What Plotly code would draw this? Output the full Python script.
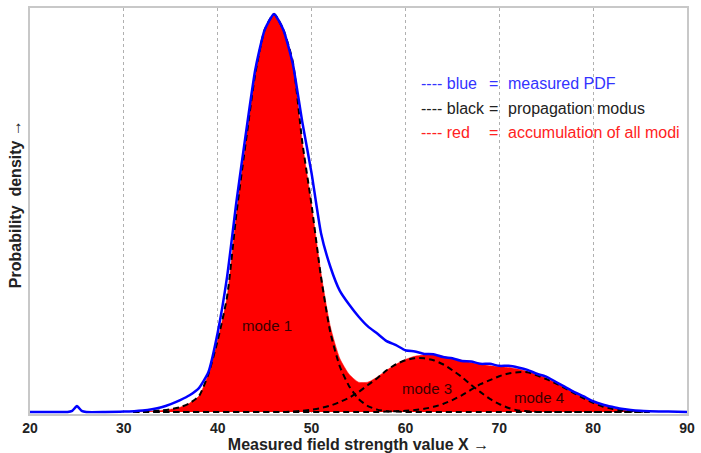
import plotly.graph_objects as go

# ---- data (y in arbitrary density units) ----
x_blue = [20, 22, 24, 24.5, 25, 25.5, 26, 28, 30, 32, 33, 34, 35, 36, 37, 38, 39, 40,
          41, 42, 43, 44, 45, 46, 47, 48, 49, 50, 51, 52, 53, 54, 55, 56, 57, 58, 59,
          60, 61, 62, 63, 64, 65, 66, 67, 68, 69, 70, 71, 72, 73, 74, 75, 76, 77, 78,
          79, 80, 81, 82, 83, 84, 85, 86, 88, 90]
y_blue = [0.0, 0.0, 0.0, 0.003, 0.015, 0.003, 0.0, 0.0, 0.001, 0.004, 0.007, 0.012, 0.02,
          0.03, 0.042, 0.06, 0.1, 0.2, 0.34, 0.53, 0.70, 0.86, 0.96, 1.0, 0.96, 0.875,
          0.73, 0.60, 0.45, 0.365, 0.305, 0.27, 0.24, 0.215, 0.197, 0.178, 0.168, 0.155,
          0.152, 0.146, 0.145, 0.138, 0.135, 0.128, 0.127, 0.121, 0.121, 0.116, 0.116, 0.112,
          0.106, 0.096, 0.089, 0.076, 0.063, 0.05, 0.039, 0.027, 0.019, 0.013, 0.008,
          0.005, 0.003, 0.002, 0.001, 0.0]

x_modes = [31, 32, 34, 35, 36, 37, 38, 39, 40, 41, 42, 43, 44, 45, 46, 47, 48, 49, 50, 51,
           52, 53, 54, 55, 56, 57, 58, 59, 60, 61, 62, 63, 64, 65, 66, 67, 68, 69, 70,
           71, 72, 73, 74, 75, 76, 77, 78, 79, 80, 81, 82, 83, 84, 85, 86]
mode1 = [0.0, 0.001, 0.004, 0.007, 0.012, 0.022, 0.04, 0.095, 0.18, 0.29, 0.5, 0.68, 0.85,
         0.96, 1.0, 0.96, 0.88, 0.68, 0.52, 0.34, 0.2, 0.115, 0.065, 0.033, 0.015, 0.006,
         0.002, 0.001, 0.0, 0.0, 0.0, 0.0, 0.0, 0.0, 0.0, 0.0, 0.0, 0.0, 0.0, 0.0, 0.0,
         0.0, 0.0, 0.0, 0.0, 0.0, 0.0, 0.0, 0.0, 0.0, 0.0, 0.0, 0.0, 0.0, 0.0]
mode3 = [0.0, 0.0, 0.0, 0.0, 0.0, 0.0, 0.0, 0.0, 0.0, 0.0, 0.0, 0.0, 0.0, 0.0, 0.0, 0.0,
         0.001, 0.003, 0.006, 0.01, 0.016, 0.025, 0.036, 0.05, 0.068, 0.085, 0.105, 0.12,
         0.13, 0.135, 0.135, 0.13, 0.12, 0.105, 0.088, 0.068, 0.05, 0.033, 0.02, 0.01,
         0.004, 0.002, 0.0, 0.0, 0.0, 0.0, 0.0, 0.0, 0.0, 0.0, 0.0, 0.0, 0.0, 0.0, 0.0]
mode4 = [0.0, 0.0, 0.0, 0.0, 0.0, 0.0, 0.0, 0.0, 0.0, 0.0, 0.0, 0.0, 0.0, 0.0, 0.0, 0.0,
         0.0, 0.0, 0.0, 0.0, 0.0, 0.0, 0.0, 0.0, 0.0, 0.0, 0.001, 0.002, 0.003, 0.005,
         0.008, 0.013, 0.02, 0.03, 0.042, 0.056, 0.07, 0.08, 0.09, 0.097, 0.1, 0.1, 0.092,
         0.083, 0.072, 0.06, 0.047, 0.034, 0.023, 0.014, 0.008, 0.004, 0.002, 0.001, 0.0]
red_acc = [0.0, 0.001, 0.004, 0.007, 0.012, 0.022, 0.04, 0.095, 0.18, 0.29, 0.5, 0.68, 0.85,
           0.96, 1.0, 0.96, 0.88, 0.68, 0.52, 0.35, 0.215, 0.135, 0.095, 0.075, 0.075,
           0.088, 0.105, 0.12, 0.132, 0.14, 0.143, 0.143, 0.14, 0.135, 0.13, 0.124, 0.12,
           0.116, 0.114, 0.112, 0.108, 0.102, 0.094, 0.085, 0.074, 0.062, 0.05, 0.037,
           0.026, 0.017, 0.01, 0.006, 0.003, 0.001, 0.0]

tick_vals = [20, 30, 40, 50, 60, 70, 80, 90]
mode_labels = ["mode 1", "mode 3", "mode 4"]
mode_label_x = [45.3, 62.3, 74.2]
mode_label_y = [0.2175, 0.06, 0.0375]

FONT = "Arial, Liberation Sans, sans-serif"

fig = go.Figure()
fig.add_trace(go.Scatter(x=x_modes, y=red_acc, mode="lines", fill="tozeroy",
                         fillcolor="#ff0000", line=dict(color="#ff0000", width=0.5,
                                                        shape="spline", smoothing=0.6),
                         showlegend=False, hoverinfo="skip"))
for m in (mode1, mode3, mode4):
    fig.add_trace(go.Scatter(x=x_modes, y=m, mode="lines",
                             line=dict(color="black", width=2, dash="6px,4px",
                                       shape="spline", smoothing=0.6),
                             showlegend=False))
fig.add_trace(go.Scatter(x=x_blue, y=y_blue, mode="lines",
                         line=dict(color="#0000ff", width=2.5, shape="spline", smoothing=0.5),
                         showlegend=False))

for t, xx, yy in zip(mode_labels, mode_label_x, mode_label_y):
    fig.add_annotation(x=xx, y=yy, xref="x", yref="y", text=t, showarrow=False,
                       font=dict(family=FONT, size=15, color="#3a0000"))

# legend-like text block
leg_rows = [("---- blue", "measured PDF", "#3333ff"),
            ("---- black", "propagation modus", "#222222"),
            ("---- red", "accumulation of all modi", "#ff2222")]
row_y = [82, 107, 131]
for (a, b, c), yy in zip(leg_rows, row_y):
    yp = 1 - (yy - 6) / 408
    fig.add_annotation(x=(421 - 30) / 661, y=yp, xref="paper", yref="paper", text=a,
                       xanchor="left", yanchor="middle", showarrow=False,
                       font=dict(family=FONT, size=16, color=c))
    fig.add_annotation(x=(496 - 30) / 661, y=yp, xref="paper", yref="paper", text="=",
                       xanchor="center", yanchor="middle", showarrow=False,
                       font=dict(family=FONT, size=16, color=c))
    fig.add_annotation(x=(509 - 30) / 661, y=yp, xref="paper", yref="paper", text=b,
                       xanchor="left", yanchor="middle", showarrow=False,
                       font=dict(family=FONT, size=16, color=c))

# y-axis title as rotated annotation
fig.add_annotation(x=(15 - 30) / 661, y=1 - (203 - 6) / 408, xref="paper", yref="paper",
                   text="Probability  density →", textangle=-90, showarrow=False,
                   xanchor="center", yanchor="middle",
                   font=dict(family=FONT, size=16, color="#222222", weight="bold"))

fig.update_layout(
    width=701, height=453,
    margin=dict(l=30, r=10, t=6, b=39),
    paper_bgcolor="white", plot_bgcolor="white",
    font=dict(family=FONT, color="#222222"),
    xaxis=dict(range=[20, 90], tickvals=tick_vals, ticks="", showgrid=True,
               gridcolor="#b0b0b0", griddash="dot", gridwidth=1,
               showline=True, linecolor="#c8c8c8", linewidth=2, mirror=True,
               zeroline=False,
               tickfont=dict(family=FONT, size=14, color="#222222", weight="bold"),
               title=dict(text="Measured field strength value X →", standoff=0,
                          font=dict(family=FONT, size=16, color="#222222", weight="bold"))),
    yaxis=dict(range=[-2 / 400, 406 / 400], showticklabels=False, ticks="", showgrid=False,
               showline=True, linecolor="#c8c8c8", linewidth=2, mirror=True,
               zeroline=False),
)

fig.write_html("out.html")
